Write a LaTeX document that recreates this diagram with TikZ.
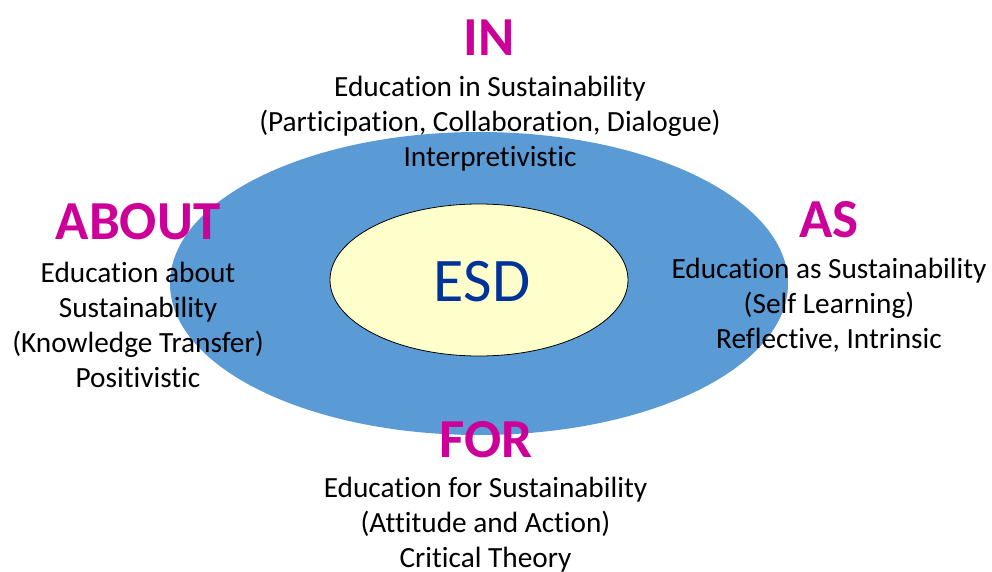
\documentclass[tikz,border=0pt]{standalone}
\usepackage{fontspec}
\setmainfont[Ligatures=NoCommon, Contextuals=NoAlternate]{Carlito}
\definecolor{ringblue}{HTML}{5B9BD5}
\definecolor{coreyellow}{HTML}{FFFFCC}
\definecolor{esdblue}{HTML}{003399}
\definecolor{titlepink}{HTML}{CC0099}

\begin{document}
\begin{tikzpicture}[x=1pt,y=-1pt,
        title/.style={text=titlepink, inner sep=0pt, font=\fontsize{55}{60}\selectfont\bfseries},
        desc/.style={align=center, inner sep=0pt, font=\fontsize{29.3}{35}\selectfont}]
        \useasboundingbox (0,0) rectangle (992,572);
        % rings
        \fill[ringblue] (479,283.5) ellipse [x radius=309, y radius=151.5];
        \draw[fill=coreyellow, line width=0.8pt] (479,280) ellipse [x radius=149, y radius=76];
        \node (esd) at (482,282) [text=esdblue, inner sep=0pt, font=\fontsize{62}{70}\selectfont] {ESD};
        % the four views
        \node (in) at (489,38) [title] {IN};
        \node (indesc) at (490,124) [desc] {Education in Sustainability\\(Participation, Collaboration, Dialogue)\\Interpretivistic};
        \node (about) at (138,222) [title] {ABOUT};
        \node (aboutdesc) at (138,324.5) [desc] {Education about\\Sustainability\\(Knowledge Transfer)\\Positivistic};
        \node (as) at (829,220) [title] {AS};
        \node (asdesc) at (829,305.5) [desc] {Education as Sustainability\\(Self Learning)\\Reflective, Intrinsic};
        \node (for) at (486,440) [title] {FOR};
        \node (fordesc) at (485.5,525) [desc] {Education for Sustainability\\(Attitude and Action)\\Critical Theory};
\end{tikzpicture}
\end{document}
